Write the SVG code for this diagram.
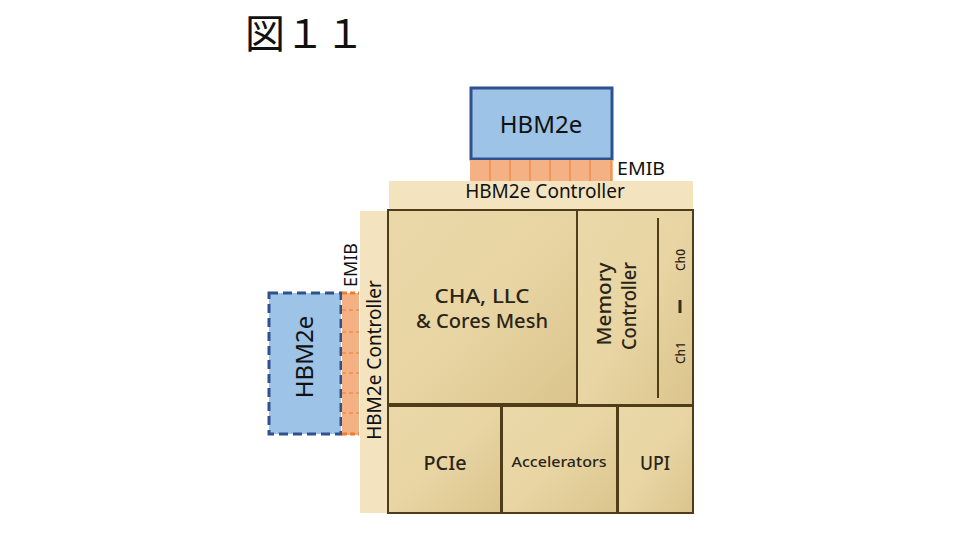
<svg xmlns="http://www.w3.org/2000/svg" width="980" height="540" viewBox="0 0 980 540">
<defs>
<linearGradient id="gold" x1="0" y1="0" x2="1" y2="1">
<stop offset="0" stop-color="#ead8a9"/>
<stop offset="0.5" stop-color="#e8d5a3"/>
<stop offset="1" stop-color="#dbc48d"/>
</linearGradient>
<style>
.t{font-family:"Noto Sans","Open Sans","Noto Sans CJK JP",sans-serif;fill:#111}
.g{font-family:"Noto Sans","Open Sans",sans-serif;font-weight:500;fill:#2a2418}
.blk{fill:url(#gold);stroke:#4f3d1a;stroke-width:2}
.hbm{fill:#9dc3e6;stroke:#2f528f;stroke-width:3}
.emib{fill:#f4b183}
.ctl{fill:#f3e3bf}
.cell{stroke:#ed7d31;stroke-width:1}
</style>
</defs>
<rect width="980" height="540" fill="#fff"/>
<text x="245" y="48" font-family="'Noto Sans CJK JP',sans-serif" font-size="40" fill="#111">図１１</text>

<g id="hbm-top">
<rect class="hbm" x="471" y="88" width="141" height="71"/>
<text class="t" x="541" y="133" font-size="24" text-anchor="middle">HBM2e</text>
</g>
<g id="emib-top">
<rect class="emib" x="470" y="160" width="143" height="21"/>
<g class="cell">
<line x1="490" y1="160" x2="490" y2="181"/><line x1="510" y1="160" x2="510" y2="181"/><line x1="530" y1="160" x2="530" y2="181"/><line x1="550" y1="160" x2="550" y2="181"/><line x1="570" y1="160" x2="570" y2="181"/><line x1="590" y1="160" x2="590" y2="181"/><line x1="611" y1="160" x2="611" y2="181"/>
</g>
<text class="t" x="617" y="175" font-size="18" textLength="48" lengthAdjust="spacingAndGlyphs">EMIB</text>
</g>
<g id="ctl-top">
<rect class="ctl" x="389" y="181" width="304" height="28"/>
<text class="t" x="545" y="198" font-size="19" text-anchor="middle">HBM2e Controller</text>
</g>

<g id="hbm-left">
<rect x="269" y="293" width="72" height="141" fill="#9dc3e6" stroke="#2f528f" stroke-width="3" stroke-dasharray="9,5"/>
<text class="t" font-size="24" text-anchor="middle" transform="translate(313,357) rotate(-90)">HBM2e</text>
</g>
<g id="emib-left">
<rect class="emib" x="342" y="293" width="17" height="142"/>
<line x1="342" y1="293" x2="359" y2="293" stroke="#ed7d31" stroke-width="3" stroke-dasharray="5,3"/>
<line x1="342" y1="434" x2="359" y2="434" stroke="#ed7d31" stroke-width="3" stroke-dasharray="5,3"/>
<g stroke="#ed7d31" stroke-width="1" stroke-dasharray="4,3">
<line x1="342" y1="310" x2="359" y2="310"/><line x1="342" y1="332" x2="359" y2="332"/><line x1="342" y1="353" x2="359" y2="353"/><line x1="342" y1="373" x2="359" y2="373"/><line x1="342" y1="393" x2="359" y2="393"/><line x1="342" y1="413" x2="359" y2="413"/>
</g>
<text class="t" font-size="18" text-anchor="middle" transform="translate(357,265) rotate(-90)">EMIB</text>
</g>
<g id="ctl-left">
<rect class="ctl" x="360" y="211" width="28" height="302"/>
<text class="t" font-size="19" text-anchor="middle" transform="translate(381,360) rotate(-90)">HBM2e Controller</text>
</g>

<g id="cha">
<rect class="blk" x="388" y="210" width="189" height="194"/>
<text class="g" x="482" y="303" font-size="19" text-anchor="middle" textLength="95" lengthAdjust="spacingAndGlyphs">CHA, LLC</text>
<text class="g" x="482" y="328" font-size="19" text-anchor="middle" textLength="132" lengthAdjust="spacingAndGlyphs">&amp; Cores Mesh</text>
</g>
<g id="memctl">
<rect class="blk" x="577" y="210" width="116" height="195"/>
<text class="g" font-size="19" text-anchor="middle" textLength="83" lengthAdjust="spacingAndGlyphs" transform="translate(611,304) rotate(-90)">Memory</text>
<text class="g" font-size="19" text-anchor="middle" textLength="88" lengthAdjust="spacingAndGlyphs" transform="translate(636,306) rotate(-90)">Controller</text>
<line x1="658" y1="218" x2="658" y2="398" stroke="#4f3d1a" stroke-width="2"/>
<line x1="680" y1="300" x2="680" y2="313" stroke="#3a2e16" stroke-width="3"/>
<text class="g" font-size="12" text-anchor="middle" transform="translate(685,260) rotate(-90)">Ch0</text>
<text class="g" font-size="12" text-anchor="middle" transform="translate(685,353) rotate(-90)">Ch1</text>
</g>
<g id="pcie">
<rect class="blk" x="388" y="406" width="113" height="107"/>
<text class="g" x="445" y="470" font-size="19" text-anchor="middle" textLength="43" lengthAdjust="spacingAndGlyphs">PCIe</text>
</g>
<g id="accel">
<rect class="blk" x="502" y="406" width="115" height="107"/>
<text class="g" x="559" y="467" font-size="15" text-anchor="middle" textLength="95" lengthAdjust="spacingAndGlyphs">Accelerators</text>
</g>
<g id="upi">
<rect class="blk" x="618" y="406" width="75" height="107"/>
<text class="g" x="655" y="470" font-size="19" text-anchor="middle" textLength="30" lengthAdjust="spacingAndGlyphs">UPI</text>
</g>
<g id="connectors"></g>
</svg>
